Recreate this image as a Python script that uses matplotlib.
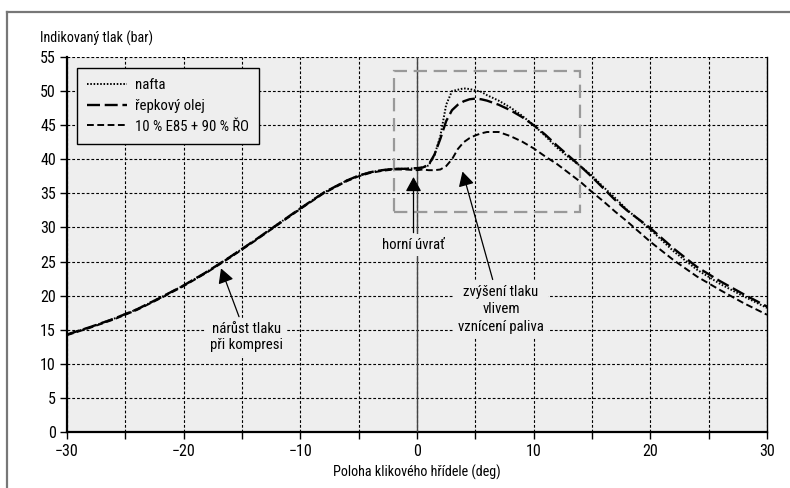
import numpy as np
import matplotlib
matplotlib.use("Agg")
import matplotlib.pyplot as plt
from matplotlib.lines import Line2D
from matplotlib import font_manager

names = {f.name for f in font_manager.fontManager.ttflist}
fams = [f for f in ['Roboto Condensed', 'Liberation Sans Narrow', 'Liberation Sans'] if f in names]
plt.rcParams['font.family'] = fams + ['DejaVu Sans']

# poloha klikového hřídele (deg)
angle = [-30, -28, -26, -24, -22, -20, -18, -16, -14, -12, -10, -8, -6, -5, -4, -3, -2, -1, 0,
         0.5, 1, 1.5, 2, 2.5, 3, 3.5, 4, 4.5, 5, 5.5, 6,
         7, 8, 9, 10, 11, 12, 13, 14, 15, 16, 17, 18,
         20, 22, 24, 26, 28, 30]

komprese = [14.3, 15.4, 16.6, 18.0, 19.7, 21.5, 23.5, 25.7, 28.0, 30.4, 32.8, 35.1, 36.9, 37.6,
            38.1, 38.4, 38.6, 38.6, 38.7]
komprese_e85 = [14.2, 15.3, 16.5, 17.9, 19.6, 21.4, 23.4, 25.6, 27.9, 30.3, 32.7, 35.0, 36.8, 37.5,
                38.0, 38.3, 38.5, 38.5, 38.4]

nafta = komprese + [38.8, 39.1, 40.6, 43.4, 48.0, 50.0, 50.2, 50.4, 50.3, 50.1, 49.9, 49.4,
                    48.6, 47.6, 46.4, 45.0, 43.4, 41.7, 40.3, 39.0, 37.6, 35.9, 34.3, 32.6,
                    29.7, 26.5, 23.8, 21.7, 19.9, 18.2]
repka = komprese + [38.8, 39.2, 40.7, 43.0, 45.6, 47.2, 48.0, 48.5, 48.8, 48.9, 48.8, 48.6,
                    48.0, 47.2, 46.2, 45.0, 43.6, 42.0, 40.5, 39.0, 37.4, 35.7, 34.0, 32.5,
                    29.9, 26.9, 24.2, 22.1, 20.2, 18.4]
e85 = komprese_e85 + [38.5, 38.4, 38.4, 38.5, 39.0, 40.0, 41.5, 42.5, 43.1, 43.5, 43.8, 44.0,
                      44.0, 43.4, 42.6, 41.6, 40.4, 39.3, 38.0, 36.7, 35.2, 33.8, 32.3, 30.9,
                      27.9, 25.2, 22.8, 20.8, 18.9, 17.2]

labels = ["nafta", "řepkový olej", "10 % E85 + 90 % ŘO"]
bg = "#eeeeee"
fs = 10.6

fig = plt.figure(figsize=(7.9, 4.88), dpi=100)
ax = fig.add_axes([67 / 790, 56 / 488, 700 / 790, 375 / 488])
ax.set_facecolor(bg)

# outer frame
fig.add_artist(Line2D([7 / 790, 7 / 790], [-0.1, 1 - 12 / 488], transform=fig.transFigure,
                      color="#777777", lw=1.6))
fig.add_artist(Line2D([7 / 790, 1.0], [1 - 12 / 488, 1 - 12 / 488], transform=fig.transFigure,
                      color="#777777", lw=1.6))

ax.plot(angle, nafta, color="black", lw=1.4, ls=(0, (0.8, 0.9)), label=labels[0], zorder=5)
ax.plot(angle, repka, color="black", lw=1.7, ls=(0, (5.5, 2)), label=labels[1], zorder=5)
ax.plot(angle, e85, color="black", lw=1.4, ls=(0, (3.5, 1.8)), label=labels[2], zorder=5)

ax.axvline(0, color="#444444", lw=1.0, zorder=3)

# sedý obdélník kolem horní úvratě
ax.add_patch(plt.Rectangle((-2, 32.3), 16, 20.7, fill=False, edgecolor="#999999", lw=1.6,
                           ls=(0, (6, 3)), zorder=4))

ax.set_xlim(-30, 30)
ax.set_ylim(0, 55)
ax.set_xticks(np.arange(-30, 31, 10))
ax.set_xticks(np.arange(-25, 30, 10), minor=True)
ax.set_yticks(np.arange(0, 56, 5))
ax.grid(True, which="both", color="black", lw=0.8, ls=(0, (2.5, 1.8)), zorder=1)
ax.set_axisbelow(True)
ax.tick_params(which="both", direction="out", length=5, width=1, labelsize=11.5)
ax.tick_params(axis="x", pad=4)
ax.tick_params(axis="y", pad=3)

ax.spines["top"].set_visible(False)
ax.spines["left"].set_linewidth(1.6)
ax.spines["bottom"].set_linewidth(1.6)
ax.spines["right"].set_linewidth(1.0)

fig.text(40 / 790, 1 - 38 / 488, "Indikovaný tlak (bar)", fontsize=10.2, ha="left", va="center")
ax.set_xlabel("Poloha klikového hřídele (deg)", fontsize=10.2, labelpad=4)

leg = ax.legend(loc="upper left", bbox_to_anchor=(0.0143, 0.9707), borderaxespad=0,
                fontsize=fs, frameon=True, fancybox=False, framealpha=1, facecolor=bg,
                edgecolor="black", handlelength=2.7, handletextpad=0.55, borderpad=0.7,
                labelspacing=0.45)
leg.get_frame().set_linewidth(1.0)
leg.set_zorder(10)

box = dict(facecolor=bg, edgecolor="none", pad=3)
arrow = dict(arrowstyle="-|>,head_length=0.55,head_width=0.3", color="black", lw=0.9,
             mutation_scale=16, shrinkA=1, shrinkB=0)

ax.annotate("horní úvrať", xy=(-0.3, 37.4), xytext=(-0.3, 27.4), ha="center", va="center",
            fontsize=fs, bbox=box, arrowprops=arrow, zorder=8)
ax.annotate("nárůst tlaku\npři kompresi", xy=(-16.8, 24.0), xytext=(-14.6, 13.9), ha="center",
            va="center", fontsize=fs, bbox=box, arrowprops=arrow, zorder=8)
ax.annotate("zvýšení tlaku\nvlivem\nvznícení paliva", xy=(3.9, 38.2), xytext=(7.2, 18.0),
            ha="center", va="center", fontsize=fs, bbox=box, arrowprops=arrow, zorder=8,
            linespacing=1.3)

fig.savefig("out.png", dpi=100)
